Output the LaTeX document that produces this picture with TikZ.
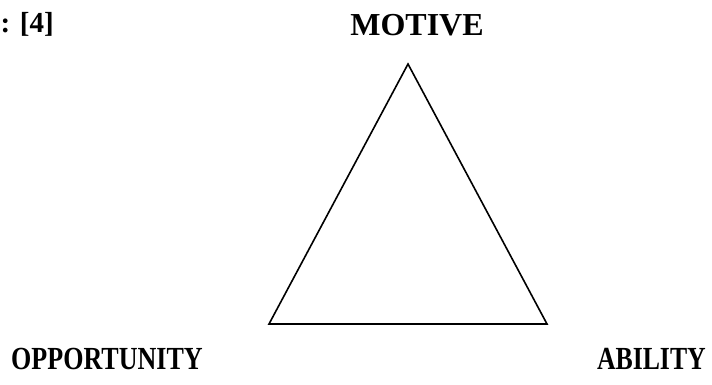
\documentclass[tikz,border=0pt]{standalone}
\usepackage{fontspec}
\setmainfont{Liberation Serif}
\begin{document}
\begin{tikzpicture}[x=1bp,y=-1bp,
  lbl/.style={inner sep=0pt,font=\fontsize{28bp}{30bp}\selectfont\bfseries},
  tri/.style={draw=black,line width=1.6bp,line join=miter}]
\useasboundingbox (0,0) rectangle (712,384);
\coordinate (top) at (408,64);
\coordinate (bl) at (269,324);
\coordinate (br) at (547,324);
\draw[tri] (top) -- (bl) -- (br) -- cycle;
\node[lbl,anchor=base,font=\fontsize{32bp}{34bp}\selectfont\bfseries] (motive) at (417,35) {MOTIVE};
\node[lbl,anchor=base east,font=\fontsize{29bp}{31bp}\selectfont\bfseries] (ref) at (54,32) {: [4]};
\node[lbl,anchor=base west] (opp) at (11,369) {\scalebox{0.93}[1.15]{OPPORTUNITY}};
\node[lbl,anchor=base east] (abil) at (706,369) {\scalebox{0.92}[1.15]{ABILITY}};
\end{tikzpicture}
\end{document}
